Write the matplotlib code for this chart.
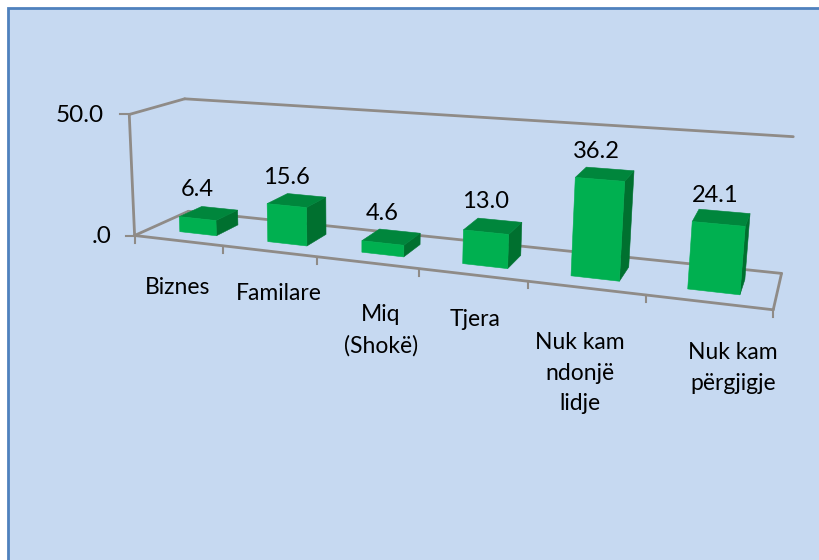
import numpy as np
from matplotlib import pyplot as plt
from matplotlib.patches import Polygon, Rectangle

categories = ['Biznes', 'Familare', 'Miq\n(Shokë)', 'Tjera', 'Nuk kam\nndonjë\nlidje', 'Nuk kam\npërgjigje']
values = [6.4, 15.6, 4.6, 13.0, 36.2, 24.1]
value_labels = ['6.4', '15.6', '4.6', '13.0', '36.2', '24.1']
y_ticks = [0, 50]
y_tick_labels = ['.0', '50.0']

y_max = 50
bg = '#C6D9F1'
grey = '#8F8B87'
font = 'Lato'

# picture position of the corners of the 3d box (u along, v depth, h up)
box = [((0, 0, 0), (137, 235)), ((1, 0, 0), (773, 311)), ((0, 1, 0), (186, 212)),
       ((1, 1, 0), (782, 272)), ((0, 0, 1), (127, 114)), ((0, 1, 1), (187, 99)),
       ((1, 1, 1), (793, 137))]


def fit_camera(pairs):
    rows, rhs = [], []
    for (u, v, h), (x, y) in pairs:
        rows.append([u, v, h, 1, 0, 0, 0, 0, -x * u, -x * v, -x * h])
        rhs.append(x)
        rows.append([0, 0, 0, 0, u, v, h, 1, -y * u, -y * v, -y * h])
        rhs.append(y)
    m = np.linalg.lstsq(np.array(rows, float), np.array(rhs, float), rcond=None)[0]
    return np.append(m, 1).reshape(3, 4)


cam = fit_camera(box)


def proj(u, v, h):
    p = cam @ np.array([u, v, h, 1.0])
    return p[0] / p[2], p[1] / p[2]


fig = plt.figure(figsize=(8.2, 5.6), dpi=100)
ax = fig.add_axes([0, 0, 1, 1])
ax.set_xlim(0, 820)
ax.set_ylim(560, 0)
ax.axis('off')

# panel
ax.add_patch(Rectangle((8, 8), 830, 570, facecolor=bg, edgecolor='#4F81BD', lw=2))


def seg(a, b):
    ax.plot([a[0], b[0]], [a[1], b[1]], color=grey, lw=2, solid_capstyle='round')


# walls and floor
seg(proj(0, 0, 0), proj(0, 0, 1))
seg(proj(0, 0, 1), proj(0, 1, 1))
seg(proj(0, 1, 1), proj(1, 1, 1))
seg(proj(0, 0, 0), proj(0, 1, 0))
seg(proj(0, 1, 0), proj(1, 1, 0))
seg(proj(1, 1, 0), proj(1, 0, 0))
seg(proj(0, 0, 0), proj(1, 0, 0))

n = len(categories)
for i in range(n + 1):
    x, y = proj(i / n, 0, 0)
    ax.plot([x, x], [y, y + 7], color=grey, lw=1.5)
for t, lab in zip(y_ticks, y_tick_labels):
    x, y = proj(0, 0, t / y_max)
    ax.plot([x - 9, x], [y, y], color=grey, lw=1.5)
    ax.text(x - 25 if t else x - 23, y + 1, lab, ha='right', va='center', fontsize=17.5, family=font, color='black')

# bars
v0, v1 = 0.28, 0.71
for i, val in enumerate(values):
    shift = 0.045 * (1 - i / (n - 1))  # bars drift a bit against the ticks
    u0, u1 = (i + 0.3 + shift) / n, (i + 0.72 + shift) / n
    h = val / y_max
    front = [proj(u0, v0, 0), proj(u1, v0, 0), proj(u1, v0, h), proj(u0, v0, h)]
    side = [proj(u1, v0, 0), proj(u1, v1, 0), proj(u1, v1, h), proj(u1, v0, h)]
    top = [proj(u0, v0, h), proj(u1, v0, h), proj(u1, v1, h), proj(u0, v1, h)]
    for pts, c in [(side, '#00702F'), (top, '#00863C'), (front, '#00B050')]:
        ax.add_patch(Polygon(pts, closed=True, facecolor=c, edgecolor=c, lw=0.4, zorder=3))

label_pos = [(197, 190), (286, 177), (382, 214), (486, 202), (596, 152), (715, 196)]
for (x, y), lab in zip(label_pos, value_labels):
    ax.text(x, y, lab, ha='center', va='center', fontsize=17, family=font, color='black', zorder=4)

cat_pos = [(178, 288), (279, 294), (381, 330), (475, 319), (580, 373), (733, 368)]
for i, ((x, y), lab) in enumerate(zip(cat_pos, categories)):
    t = ax.text(x, y, lab, ha='center', va='center', fontsize=16.5, family=font, color='black',
                linespacing=1.58, multialignment='center')
    if i == 2:
        t.set_clip_path(Rectangle((335, 290), 81, 80, transform=ax.transData))

plt.savefig('out.png', dpi=100)
